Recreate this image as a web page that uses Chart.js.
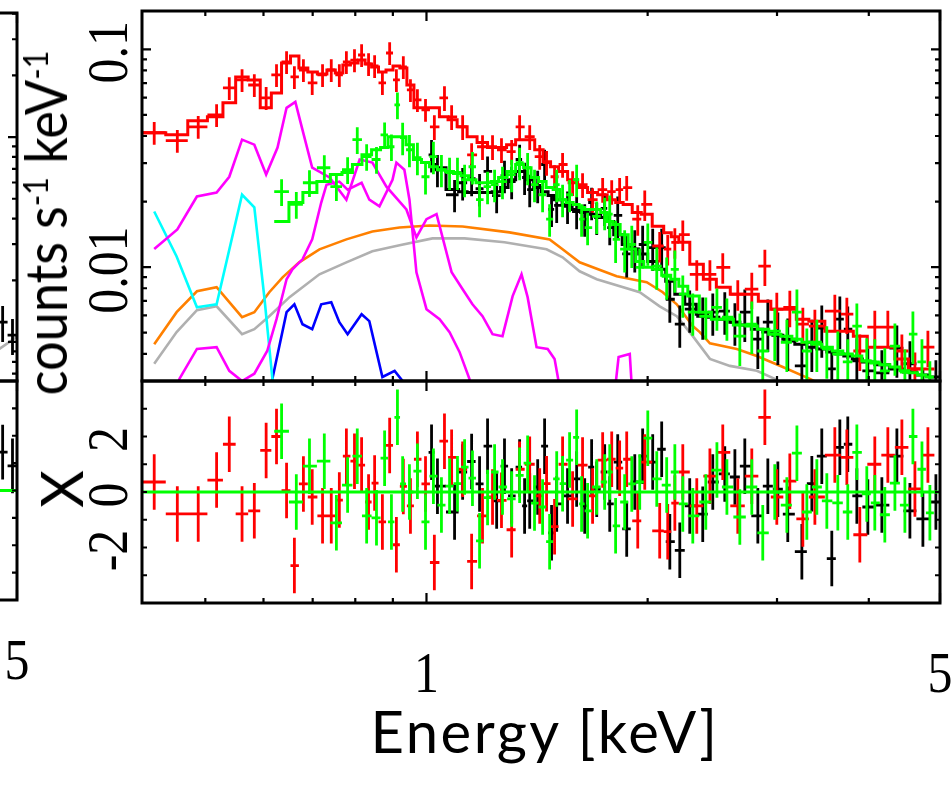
<!DOCTYPE html>
<html>
<head>
<meta charset="utf-8">
<script src="https://cdn.jsdelivr.net/npm/chart.js@4.4.0/dist/chart.umd.min.js"></script>
<style>
  html, body { margin: 0; padding: 0; background: #fff; }
  #wrap { position: relative; width: 952px; height: 790px; overflow: hidden; background: #fff; }
  #wrap canvas { position: absolute; left: 0; top: 0; }
  #wrap canvas.side { left: -923px; }
  .title { position: absolute; font-family: Lato, "Noto Sans", sans-serif; font-size: 58px; line-height: 1;
           color: #000; white-space: nowrap; transform-origin: 50% 50%; font-weight: 400; }
  .title .sup { font-size: 34px; vertical-align: 19px; }
  #ytitle { left: 45px; top: 223px; transform: translate(-50%, -50%) rotate(-90deg) scaleX(0.9); }
  #chititle { left: 61px; top: 489px; transform: translate(-50%, -50%) rotate(-90deg); }
  #xtitle { left: 545px; top: 731px; letter-spacing: 2.5px; transform: translate(-50%, -50%); }
</style>
</head>
<body>
<div id="wrap">
  <canvas id="sideSpec" class="side" width="952" height="790"></canvas>
  <canvas id="sideResid" class="side" width="952" height="790"></canvas>
  <canvas id="specPanel" width="952" height="790"></canvas>
  <canvas id="residPanel" width="952" height="790"></canvas>
  <div class="title" id="ytitle">counts s<span class="sup">-1</span> keV<span class="sup">-1</span></div>
  <div class="title" id="chititle">X</div>
  <div class="title" id="xtitle">Energy [keV]</div>
</div>
<script>
// ---- axis ticks ----
const energyTicks = [0.5, 0.6, 0.7, 0.8, 0.9, 1, 2, 3, 4, 5];
const energyMajor = [1, 5];
const energyLabelVals = [1, 5];
const energyLabels = ['1', '5'];
const rateTicks = [0.004, 0.005, 0.006, 0.007, 0.008, 0.009, 0.01,
                   0.02, 0.03, 0.04, 0.05, 0.06, 0.07, 0.08, 0.09, 0.1];
const rateMajor = [0.01, 0.1];
const rateLabelVals = [0.01, 0.1];
const rateLabels = ['0.01', '0.1'];
const chiTicks = [-3, -2, -1, 0, 1, 2, 3];
const chiLabelVals = [-2, 0, 2];
const chiLabels = ['-2', '0', '2'];

// ---- red spectrum ----
const redE = [0.426,0.458,0.489,0.518,0.539,0.561,0.583,0.605,0.625,0.645,
  0.661,0.680,0.699,0.722,0.742,0.761,0.778,0.798,0.816,0.834,
  0.850,0.871,0.891,0.910,0.930,0.951,0.972,0.997,1.025,1.058,
  1.082,1.120,1.152,1.192,1.230,1.265,1.306,1.339,1.382,1.426,
  1.457,1.494,1.532,1.581,1.631,1.683,1.737,1.787,1.832,1.873,
  1.939,1.982,2.077,2.130,2.178,2.233,2.333,2.431,2.531,2.653,
  2.772,2.888,2.998,3.123,3.253,3.378,3.596,3.734,3.889,4.076,
  4.246,4.437,4.622,4.814];
const redRate = [0.0414,0.0381,0.0441,0.0500,0.0665,0.0724,0.0686,0.0599,0.0763,0.0875,
  0.0747,0.0804,0.0701,0.0763,0.0804,0.0763,0.0875,0.0893,0.0942,0.0857,
  0.0839,0.0701,0.0962,0.0724,0.0830,0.0651,0.0586,0.0528,0.0441,0.0599,
  0.0490,0.0441,0.0328,0.0357,0.0357,0.0346,0.0339,0.0441,0.0397,0.0322,
  0.0302,0.0260,0.0296,0.0244,0.0239,0.0204,0.0227,0.0222,0.0227,0.0232,
  0.0166,0.0194,0.0125,0.0121,0.0130,0.0141,0.00927,0.00927,0.00998,0.00751,
  0.00792,0.0101,0.00641,0.00654,0.00547,0.00536,0.00628,0.00608,0.00412,0.00530,
  0.00530,0.00412,0.00341,0.00429];
const redModel = [0.0414,0.0405,0.0470,0.0490,0.0568,0.0747,0.0724,0.0539,0.0631,0.0866,
  0.0932,0.0821,0.0787,0.0771,0.0804,0.0779,0.0848,0.0866,0.0893,0.0857,
  0.0830,0.0787,0.0804,0.0839,0.0821,0.0686,0.0539,0.0539,0.0539,0.0490,
  0.0475,0.0441,0.0397,0.0373,0.0354,0.0354,0.0365,0.0385,0.0385,0.0346,
  0.0305,0.0289,0.0275,0.0252,0.0232,0.0220,0.0215,0.0204,0.0198,0.0194,
  0.0178,0.0175,0.0154,0.0144,0.0138,0.0130,0.0103,0.00880,0.00809,0.00751,
  0.00751,0.00697,0.00641,0.00641,0.00577,0.00565,0.00508,0.00508,0.00482,0.00429,
  0.00429,0.00379,0.00341,0.00341];
const redErr = [0.12,0.12,0.12,0.12,0.12,0.12,0.12,0.12,0.12,0.12,
  0.12,0.12,0.12,0.12,0.12,0.12,0.12,0.12,0.12,0.12,
  0.12,0.12,0.12,0.12,0.12,0.12,0.12,0.12,0.13,0.13,
  0.13,0.13,0.13,0.13,0.13,0.13,0.13,0.13,0.13,0.13,
  0.13,0.13,0.13,0.13,0.13,0.13,0.13,0.13,0.13,0.13,
  0.16,0.16,0.16,0.16,0.16,0.16,0.16,0.16,0.16,0.16,
  0.19,0.19,0.19,0.19,0.19,0.19,0.19,0.19,0.19,0.19,
  0.19,0.19,0.19,0.19];
const redChi = [0.36,-0.79,-0.79,0.43,1.72,-0.79,-0.68,1.5,2.0,0.05,
  -2.65,0.29,-0.18,-0.86,-0.86,-0.29,1.29,1.11,0.97,-0.36,
  0.32,-1.08,1.68,-1.9,0.2,-0.5,1.18,0.29,-2.54,1.83,
  1.25,0.82,-2.5,-0.86,-0.18,-0.3,-1.36,0.82,1.0,-0.14,
  0.3,-1.25,1.0,-0.25,0.97,-0.14,1.15,1.18,0.86,1.18,
  -1.04,1.08,-1.4,-1.43,-0.4,0.72,-0.5,0.57,1.43,-0.5,
  0.57,2.69,-0.18,0.39,-0.97,-0.18,1.33,1.25,-1.54,1.0,
  1.33,1.61,0.11,1.33];

// ---- black spectrum ----
const blackE = [1.016,1.035,1.092,1.120,1.152,1.181,1.211,1.246,1.277,1.306,
  1.339,1.360,1.382,1.417,1.448,1.480,1.504,1.556,1.601,1.642,
  1.678,1.705,1.748,1.776,1.821,1.873,1.921,1.969,2.032,2.090,
  2.144,2.212,2.282,2.377,2.453,2.547,2.629,2.712,2.825,2.915,
  3.008,3.103,3.243,3.346,3.452,3.562,3.653,3.745,3.853,3.988,
  4.167,4.368,4.550,4.739,4.936];
const blackRate = [0.0328,0.0280,0.0215,0.0244,0.0255,0.0229,0.0275,0.0213,0.0263,0.0247,
  0.0312,0.0258,0.0227,0.0237,0.0296,0.0184,0.0192,0.0190,0.0180,0.0166,
  0.0198,0.0169,0.0186,0.0152,0.0173,0.0115,0.0121,0.0127,0.0123,0.0123,
  0.00712,0.00547,0.00641,0.00595,0.00621,0.00628,0.00559,0.00621,0.00467,0.00559,
  0.00487,0.00457,0.00352,0.00452,0.00525,0.00341,0.00577,0.00519,0.00371,0.00334,
  0.00327,0.00425,0.00360,0.00270,0.00294];
const blackModel = [0.0296,0.0286,0.0227,0.0222,0.0220,0.0220,0.0220,0.0222,0.0232,0.0252,
  0.0275,0.0275,0.0252,0.0232,0.0222,0.0213,0.0204,0.0194,0.0184,0.0178,
  0.0175,0.0173,0.0169,0.0162,0.0141,0.0127,0.0121,0.0115,0.0106,0.00977,
  0.00862,0.00751,0.00675,0.00608,0.00589,0.00577,0.00559,0.00542,0.00519,0.00503,
  0.00487,0.00467,0.00443,0.00429,0.00421,0.00408,0.00399,0.00391,0.00379,0.00367,
  0.00356,0.00341,0.00330,0.00320,0.00313];
const blackErr = [0.17,0.17,0.17,0.17,0.17,0.17,0.17,0.17,0.17,0.17,
  0.17,0.17,0.17,0.17,0.17,0.17,0.17,0.17,0.17,0.17,
  0.17,0.17,0.17,0.17,0.22,0.22,0.22,0.22,0.22,0.22,
  0.22,0.22,0.22,0.22,0.22,0.22,0.22,0.27,0.27,0.27,
  0.27,0.27,0.27,0.27,0.27,0.27,0.27,0.27,0.27,0.27,
  0.27,0.27,0.27,0.27,0.27];
const blackChi = [1.43,0.21,-0.72,0.72,1.1,0.29,1.65,-0.32,0.93,-0.14,
  0.9,-0.5,-0.32,0.18,1.65,-1.47,-0.43,-0.14,0.47,-0.5,
  0.9,0.1,0.72,-0.43,1.08,-1.33,0.36,1.29,1.08,1.54,
  -1.79,-2.1,-0.5,-0.8,0.36,0.65,0.54,0.93,-0.86,0.21,
  0.1,-0.8,-2.15,0.3,1.29,-2.4,1.61,1.72,-0.14,-0.54,
  -0.47,1.29,-0.68,-0.97,-0.36];

// ---- green spectrum ----
const greenE = [0.635,0.665,0.693,0.726,0.754,0.781,0.805,0.829,0.855,0.877,
  0.896,0.913,0.928,0.948,0.972,0.997,1.022,1.048,1.075,1.102,
  1.127,1.155,1.181,1.211,1.238,1.269,1.306,1.339,1.373,1.403,
  1.439,1.471,1.504,1.532,1.566,1.601,1.626,1.657,1.705,1.748,
  1.776,1.809,1.861,1.903,1.951,2.001,2.058,2.123,2.178,2.233,
  2.304,2.400,2.485,2.564,2.670,2.772,2.869,2.979,3.094,3.193,
  3.294,3.399,3.507,3.630,3.745,3.853,3.975,4.076,4.206,4.341,
  4.479,4.593,4.725,4.844];
const greenRate = [0.0222,0.0194,0.0244,0.0286,0.0234,0.0280,0.0385,0.0322,0.0312,0.0405,
  0.0357,0.0556,0.0393,0.0346,0.0318,0.0260,0.0322,0.0280,0.0272,0.0272,
  0.0252,0.0289,0.0204,0.0234,0.0239,0.0247,0.0266,0.0302,0.0286,0.0239,
  0.0215,0.0166,0.0239,0.0204,0.0215,0.0252,0.0166,0.0152,0.0171,0.0178,
  0.0175,0.0134,0.0121,0.0127,0.00998,0.0130,0.0101,0.00908,0.00977,0.00751,
  0.00621,0.00595,0.00654,0.00589,0.00482,0.00547,0.00412,0.00508,0.00452,0.00621,
  0.00412,0.00452,0.00421,0.00399,0.00367,0.00536,0.00371,0.00367,0.00334,0.00434,
  0.00330,0.00492,0.00367,0.00291];
const greenModel = [0.0162,0.0198,0.0220,0.0247,0.0266,0.0272,0.0296,0.0328,0.0346,0.0354,
  0.0397,0.0397,0.0397,0.0365,0.0312,0.0302,0.0289,0.0280,0.0275,0.0269,
  0.0263,0.0252,0.0244,0.0244,0.0247,0.0258,0.0275,0.0296,0.0286,0.0258,
  0.0247,0.0232,0.0227,0.0204,0.0198,0.0194,0.0188,0.0184,0.0184,0.0178,
  0.0162,0.0157,0.0141,0.0121,0.0106,0.00998,0.00977,0.00917,0.00880,0.00817,
  0.00736,0.00621,0.00577,0.00577,0.00542,0.00536,0.00519,0.00492,0.00482,0.00467,
  0.00452,0.00443,0.00429,0.00412,0.00399,0.00391,0.00371,0.00363,0.00356,0.00348,
  0.00334,0.00327,0.00320,0.00313];
const greenErr = [0.14,0.14,0.14,0.14,0.14,0.14,0.14,0.14,0.14,0.14,
  0.14,0.14,0.17,0.17,0.17,0.17,0.17,0.17,0.17,0.17,
  0.17,0.17,0.17,0.17,0.17,0.17,0.17,0.17,0.17,0.17,
  0.17,0.17,0.17,0.17,0.17,0.17,0.17,0.17,0.17,0.17,
  0.22,0.22,0.22,0.22,0.22,0.22,0.22,0.22,0.22,0.22,
  0.22,0.22,0.22,0.22,0.27,0.27,0.27,0.27,0.27,0.27,
  0.27,0.27,0.27,0.27,0.27,0.27,0.27,0.27,0.27,0.27,
  0.27,0.27,0.27,0.27];
const greenChi = [2.19,-0.36,0.93,1.11,-1.11,0.25,1.29,-0.86,-0.93,1.22,
  -1.08,2.69,0.29,0,0.75,-1.08,0.57,-0.47,0.21,0.3,
  0.9,0.5,-1.76,-0.2,0.72,0.18,-0.25,0.6,1.04,-0.4,
  -0.54,-1.79,0.47,0.3,1.15,1.97,-0.43,-0.68,0.18,0.36,
  0.72,-1.22,-0.36,0.29,0.36,1.94,0.47,0.25,0.72,-0.43,
  -0.86,-0.36,0.79,0.18,-0.9,0.18,-1.47,0,-0.47,1.4,
  -0.72,0.18,-0.32,-0.39,-0.72,1.43,-0.07,-0.39,-0.82,0.32,
  -0.47,2.0,0.82,-0.75];

// ---- model components ----
const magHiE = [0.426,0.458,0.487,0.518,0.539,0.561,0.583,0.605,0.627,0.645,
  0.663,0.678,0.699,0.738,0.778,0.811,0.844,0.882,0.939,0.969,
  1.000,1.032,1.082,1.120,1.155,1.192,1.230,1.269,1.310,1.347,
  1.373,1.412,1.462,1.494,1.528];
const magHiV = [0.0121,0.0149,0.0211,0.0220,0.0260,0.0385,0.0365,0.0266,0.0354,0.0539,
  0.0574,0.0427,0.0286,0.0258,0.0204,0.0312,0.0302,0.0234,0.0184,0.0137,
  0.0166,0.0175,0.00947,0.00792,0.00675,0.00595,0.00492,0.00482,0.00736,0.00927,
  0.00728,0.00429,0.00421,0.00379,0.00248];
const magLoE = [0.454,0.461,0.487,0.518,0.539,0.561,0.583,0.607,0.625,0.645,
  0.657,0.678,0.699,0.719,0.731,0.761,0.781,0.816,0.836,0.863,
  0.899,0.910,0.933,0.948,0.969,1.000,1.042,1.075,1.109,1.144,
  1.163,1.787,1.826,1.891,1.915];
const magLoV = [0.0020,0.00307,0.00421,0.00429,0.00334,0.0030,0.00324,0.00412,0.00577,0.0088,
  0.00977,0.01086,0.01341,0.0198,0.0239,0.0247,0.0227,0.0244,0.0204,0.0190,
  0.0252,0.0302,0.0280,0.0204,0.00947,0.00641,0.00577,0.00503,0.00408,0.00307,
  0.0020,0.0020,0.00387,0.00399,0.0020];
const cyanE = [0.426,0.457,0.487,0.518,0.561,0.583,0.602,0.617,0.623];
const cyanV = [0.0180,0.0112,0.00654,0.00675,0.0215,0.0188,0.00712,0.00307,0.00248];
const orangeE = [0.426,0.457,0.487,0.518,0.561,0.583,0.611,0.637,0.671,0.715,
  0.778,0.844,0.919,1.010,1.120,1.297,1.471,1.532,1.616,1.815,
  1.994,2.097,2.191,2.304,2.355,2.431,2.645,2.816,3.055,3.325,3.540];
const orangeV = [0.00443,0.00621,0.00775,0.00809,0.00589,0.00621,0.00767,0.00898,0.01052,0.01207,
  0.01341,0.01459,0.01521,0.01554,0.01537,0.01444,0.01341,0.01207,0.01052,0.00908,
  0.00853,0.00767,0.00675,0.00536,0.00503,0.00447,0.00421,0.00391,0.00348,0.00307,0.00276];
const grayE = [0.426,0.457,0.487,0.518,0.561,0.583,0.611,0.651,0.715,0.778,
  0.844,0.919,1.019,1.127,1.277,1.457,1.532,1.616,1.705,1.951,
  2.077,2.191,2.304,2.431,2.588,2.816,2.979,3.123];
const grayV = [0.00360,0.00503,0.00634,0.00661,0.00492,0.00519,0.00595,0.00728,0.00927,0.01052,
  0.01182,0.01259,0.01355,0.01355,0.01300,0.01207,0.01109,0.00957,0.00880,0.00767,
  0.00661,0.00595,0.00482,0.00379,0.00352,0.00334,0.00307,0.00276];
const blueE = [0.607,0.617,0.645,0.661,0.678,0.699,0.719,0.742,0.761,0.781,
  0.816,0.836,0.871,0.905,0.928,0.936];
const blueV = [0.00248,0.00307,0.00621,0.00675,0.00547,0.00519,0.00675,0.00690,0.00559,0.00492,
  0.00608,0.00565,0.00313,0.00334,0.00300,0.00248];

// ---- neighbouring panel, only its right edge shows ----
const sideRateTicks = [0.007, 0.008, 0.009, 0.01, 0.02, 0.03, 0.04, 0.05, 0.06,
                       0.07, 0.08, 0.09, 0.1, 0.2, 0.3, 0.4];
const sideRateMajor = [0.01, 0.1];
const sideE = [4.78, 4.93];
const sideRate = [0.0125, 0.0108];
const sideErr = [0.2, 0.2];
const sideChi = [1.4, 0.9];
const sideGrayE = [4.70, 5.0];
const sideGrayV = [0.0091, 0.0106];

// bin edges: geometric midpoints between neighbouring channel energies
function binEdges(E) {
  const lo = [], hi = [];
  for (let i = 0; i < E.length; i++) {
    const left = i > 0 ? Math.sqrt(E[i - 1] * E[i]) : E[i] * Math.sqrt(E[i] / E[i + 1]);
    const right = i < E.length - 1 ? Math.sqrt(E[i] * E[i + 1]) : E[i] * Math.sqrt(E[i] / E[i - 1]);
    lo.push(left);
    hi.push(right);
  }
  return { lo, hi };
}

// crosses: horizontal bin width + vertical error, broken with nulls
function crosses(E, vals, errLo, errHi) {
  const { lo, hi } = binEdges(E);
  const pts = [];
  E.forEach((e, i) => {
    pts.push({ x: lo[i], y: vals[i] }, { x: hi[i], y: vals[i] }, { x: e, y: null });
    pts.push({ x: e, y: vals[i] - errLo[i] }, { x: e, y: vals[i] + errHi[i] }, { x: e, y: null });
  });
  return pts;
}

function stepLine(E, model) {
  const { lo, hi } = binEdges(E);
  const pts = E.map((e, i) => ({ x: e, y: model[i] }));
  pts.unshift({ x: lo[0], y: model[0] });
  pts.push({ x: hi[hi.length - 1], y: model[model.length - 1] });
  return pts;
}

const curve = (E, V) => E.map((e, i) => ({ x: e, y: V[i] }));
const fracErr = (vals, frac) => vals.map((v, i) => v * frac[i]);
const ones = arr => arr.map(() => 1);

const frameTicks = {
  id: 'frameTicks',
  afterDatasetsDraw(chart, args, o) {
    const ctx = chart.ctx, a = chart.chartArea;
    const xs = chart.scales.x, ys = chart.scales.y;
    ctx.save();
    ctx.strokeStyle = '#000';
    ctx.lineWidth = 2.2;
    ctx.beginPath();
    o.xTicks.forEach(v => {
      const px = xs.getPixelForValue(v);
      const len = o.xMajor.includes(v) ? 10 : 5;
      ctx.moveTo(px, a.top); ctx.lineTo(px, a.top + len);
      ctx.moveTo(px, a.bottom); ctx.lineTo(px, a.bottom - len);
    });
    o.yTicks.forEach(v => {
      const py = ys.getPixelForValue(v);
      const len = o.yMajor.includes(v) ? 9 : 5;
      ctx.moveTo(a.left, py); ctx.lineTo(a.left + len, py);
      ctx.moveTo(a.right, py); ctx.lineTo(a.right - len, py);
    });
    ctx.stroke();
    ctx.lineWidth = 3;
    ctx.strokeRect(a.left, a.top, a.right - a.left, a.bottom - a.top);

    ctx.fillStyle = '#000';
    ctx.font = '58px "Liberation Serif", serif';
    ctx.textAlign = 'center';
    ctx.textBaseline = 'alphabetic';
    (o.yLabelVals || []).forEach((v, i) => {
      const py = ys.getPixelForValue(v) + 3;
      ctx.save();
      ctx.translate(a.left - 15, py);
      ctx.rotate(-Math.PI / 2);
      ctx.scale(0.86, 1);
      ctx.fillText(o.yLabels[i], 0, 0);
      ctx.restore();
    });
    (o.xLabelVals || []).forEach((v, i) => {
      const px = xs.getPixelForValue(v);
      ctx.save();
      ctx.translate(px, a.bottom + (o.xLabelGap || 89));
      ctx.scale(0.86, 1);
      ctx.fillText(o.xLabels[i], 0, 0);
      ctx.restore();
    });
    ctx.restore();
  }
};

const RED = '#ff0000', GREEN = '#00ff00', BLACK = '#000000';

function ds(data, color, order, extra) {
  return Object.assign({ data, borderColor: color, borderWidth: 2.8, pointRadius: 0,
    fill: false, spanGaps: false, tension: 0, order }, extra || {});
}

const baseOptions = (padding, yScale, deco) => ({
  responsive: false,
  animation: false,
  devicePixelRatio: 1,
  layout: { padding },
  scales: {
    x: { type: 'logarithmic', min: 0.41, max: 5, display: false },
    y: yScale
  },
  plugins: { legend: { display: false }, tooltip: { enabled: false }, frameTicks: deco }
});

// neighbouring panel (cut by the left edge of the figure)
new Chart(document.getElementById('sideSpec'), {
  type: 'line',
  data: {
    datasets: [
      ds(crosses(sideE, sideRate, fracErr(sideRate, sideErr), fracErr(sideRate, sideErr)), BLACK, 1),
      ds(curve(sideGrayE, sideGrayV), '#b0b0b0', 2, { borderWidth: 2.6 })
    ]
  },
  options: baseOptions({ left: 142, right: 12, top: 13, bottom: 409 },
    { type: 'logarithmic', min: 0.00645, max: 0.403, display: false },
    { xTicks: energyTicks, xMajor: energyMajor, yTicks: sideRateTicks, yMajor: sideRateMajor }),
  plugins: [frameTicks]
});

new Chart(document.getElementById('sideResid'), {
  type: 'line',
  data: {
    datasets: [
      ds([{ x: 0.41, y: 0 }, { x: 5, y: 0 }], GREEN, 0, { borderWidth: 3 }),
      ds(crosses(sideE, sideChi, ones(sideChi), ones(sideChi)), BLACK, 1)
    ]
  },
  options: baseOptions({ left: 142, right: 12, top: 381, bottom: 190 },
    { type: 'linear', min: -4, max: 4, display: false },
    { xTicks: energyTicks, xMajor: energyMajor, yTicks: chiTicks, yMajor: [],
      xLabelVals: energyLabelVals, xLabels: energyLabels, xLabelGap: 79 }),
  plugins: [frameTicks]
});

// upper panel: spectra and model components
new Chart(document.getElementById('specPanel'), {
  type: 'line',
  data: {
    datasets: [
      ds(crosses(greenE, greenRate, fracErr(greenRate, greenErr), fracErr(greenRate, greenErr)), GREEN, 1),
      ds(stepLine(greenE, greenModel), GREEN, 2, { stepped: 'middle', borderWidth: 3 }),
      ds(crosses(redE, redRate, fracErr(redRate, redErr), fracErr(redRate, redErr)), RED, 3),
      ds(stepLine(redE, redModel), RED, 4, { stepped: 'middle', borderWidth: 3 }),
      ds(crosses(blackE, blackRate, fracErr(blackRate, blackErr), fracErr(blackRate, blackErr)), BLACK, 5),
      ds(stepLine(blackE, blackModel), BLACK, 6, { stepped: 'middle', borderWidth: 3 }),
      ds(curve(magHiE, magHiV), '#ff00ff', 10, { borderWidth: 2.6 }),
      ds(curve(magLoE, magLoV), '#ff00ff', 11, { borderWidth: 2.6 }),
      ds(curve(cyanE, cyanV), '#00ffff', 12, { borderWidth: 2.6 }),
      ds(curve(orangeE, orangeV), '#ff8000', 13, { borderWidth: 2.6 }),
      ds(curve(grayE, grayV), '#b0b0b0', 14, { borderWidth: 2.6 }),
      ds(curve(blueE, blueV), '#0000ff', 15, { borderWidth: 2.6 })
    ]
  },
  options: baseOptions({ left: 142, right: 12, top: 11, bottom: 409 },
    { type: 'logarithmic', min: 0.003, max: 0.15, display: false },
    { xTicks: energyTicks, xMajor: energyMajor, yTicks: rateTicks, yMajor: rateMajor,
      yLabelVals: rateLabelVals, yLabels: rateLabels }),
  plugins: [frameTicks]
});

// lower panel: residuals
new Chart(document.getElementById('residPanel'), {
  type: 'line',
  data: {
    datasets: [
      ds([{ x: 0.41, y: 0 }, { x: 5, y: 0 }], GREEN, 0, { borderWidth: 3 }),
      ds(crosses(greenE, greenChi, ones(greenChi), ones(greenChi)), GREEN, 1),
      ds(crosses(redE, redChi, ones(redChi), ones(redChi)), RED, 2),
      ds(crosses(blackE, blackChi, ones(blackChi), ones(blackChi)), BLACK, 3)
    ]
  },
  options: baseOptions({ left: 142, right: 12, top: 381, bottom: 187 },
    { type: 'linear', min: -4, max: 4, display: false },
    { xTicks: energyTicks, xMajor: energyMajor, yTicks: chiTicks, yMajor: [],
      yLabelVals: chiLabelVals, yLabels: chiLabels,
      xLabelVals: energyLabelVals, xLabels: energyLabels }),
  plugins: [frameTicks]
});
</script>
</body>
</html>
